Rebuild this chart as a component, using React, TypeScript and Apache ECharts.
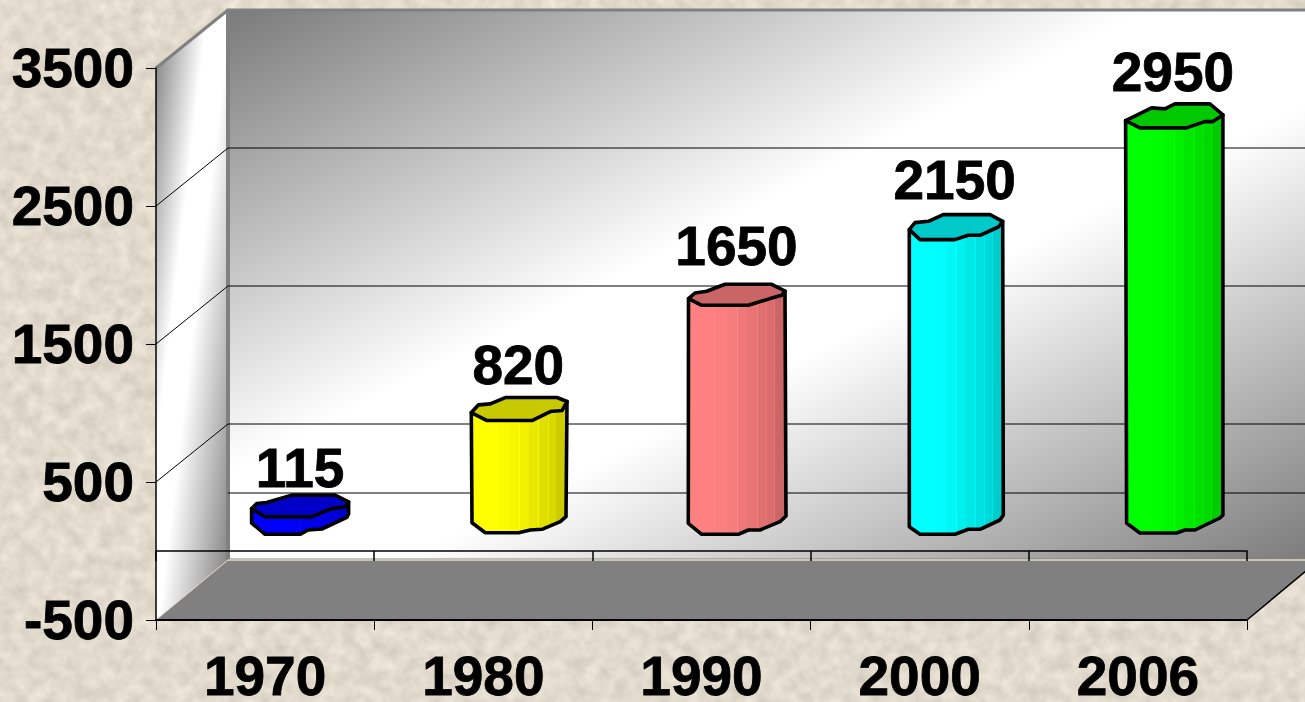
import React, { useEffect, useRef } from "react";
import * as echarts from "echarts";

const categories = ["1970", "1980", "1990", "2000", "2006"];
const values = [115, 820, 1650, 2150, 2950];
const barColors = ["#0000FF", "#FFFF00", "#FF8080", "#00FFFF", "#00FF00"];
const yTickValues = [-500, 500, 1500, 2500, 3500];
const wallLineValues = [500, 1500, 2500];
const labelLift = [38, 44, 48, 45, 43];

// Ragged outline of each column's cap and foot, in pixels around the column's axis.
const capOutlines = [
  [[-49.5, 2.5], [-44.5, -2.7], [-34.5, -3.7], [-9.5, -11], [34, -11], [47.5, -4.3], [44, 0.7], [29, 3], [10.5, 10.7], [-36, 10.7]],
  [[-48, 3.7], [-40.7, -4], [-29, -5], [-14, -11.3], [37.7, -11.3], [47.7, -7.3], [42.7, 1.7], [31, 2.7], [12.7, 11.7], [-32.3, 11.7]],
  [[-49, 4.3], [-42.5, -1.3], [-30.8, -3], [-12.5, -10], [34.2, -10], [47.5, -3.3], [44.2, 1], [32.5, 4.3], [10.8, 11], [-35.8, 11]],
  [[-46.4, 4.3], [-40.7, -2.7], [-27.4, -4], [-12.4, -10.7], [34.3, -10.7], [47, -4], [42.6, 1.7], [24.3, 10], [12.6, 10], [-0.7, 14.3], [-35.7, 14.3]],
  [[-48.3, 5.7], [-22.3, -7], [-9, -6], [1, -11], [36, -11], [49, 0], [39, 6.7], [31, 6.7], [12.7, 13], [-34, 13]],
];
const footOutlines = [
  [[-49.5, 1], [-36, 12.3], [-1, 12.3], [7, 8], [20.7, 7], [45.7, -4.7], [47.5, -8]],
  [[-47.3, 0.7], [-34, 10.7], [-0.7, 10.7], [11, 8], [22.7, 7.3], [41, -0.3], [46.7, -5.3]],
  [[-49.2, 1.3], [-35.8, 12.3], [0.8, 12.3], [10.8, 8], [22.5, 8], [42.5, -0.3], [48.5, -6]],
  [[-46.4, 4.7], [-35.7, 12.3], [-0.7, 12.3], [12.6, 7.3], [24.3, 7.3], [44.3, -2], [47.6, -7]],
  [[-47.3, 1], [-34, 11], [2.7, 11], [11, 8], [21, 8], [46, -4], [49, -7]],
];

const DX = 72;
const DY = -58;
const FLOOR_DY = -60;
const FONT = '"Liberation Sans", Arial, sans-serif';
const FONT_SIZE = 55;
const BG_SVG =
  "<svg xmlns='http://www.w3.org/2000/svg' width='1305' height='702'>" +
  "<filter id='n' x='0' y='0' width='100%' height='100%' color-interpolation-filters='sRGB'>" +
  "<feTurbulence type='fractalNoise' baseFrequency='0.07' numOctaves='3' seed='7'/>" +
  "<feColorMatrix type='matrix' values='0.16 0 0 0 0.805  0.16 0 0 0 0.775  0.16 0 0 0 0.72  0 0 0 0 1'/>" +
  "</filter><rect width='1305' height='702' filter='url(#n)'/></svg>";

function shade(hex: string, m: number) {
  const n = parseInt(hex.slice(1), 16);
  const c = [(n >> 16) & 255, (n >> 8) & 255, n & 255].map((v) => Math.min(255, Math.round(v * m + (m > 1 ? 255 * (m - 1) : 0))));
  return `rgb(${c[0]},${c[1]},${c[2]})`;
}

const facetEdges = [0, 0.14, 0.28, 0.4, 0.5, 0.51, 0.6, 0.7, 0.71, 0.8, 0.81, 0.88, 0.89, 1];
const facetShades = [1, 1, 0.99, 0.97, 1.03, 0.94, 0.91, 0.97, 0.88, 0.93, 0.85, 0.9, 0.8];

function bodyFill(hex: string) {
  const colorStops: any[] = [];
  facetShades.forEach((m, i) => {
    colorStops.push({ offset: facetEdges[i], color: shade(hex, m) });
    colorStops.push({ offset: facetEdges[i + 1], color: shade(hex, m) });
  });
  return { type: "linear", x: 0, y: 0, x2: 1, y2: 0, colorStops };
}

const backFill = {
  type: "linear",
  x: 0,
  y: 0,
  x2: 1,
  y2: 1,
  colorStops: [
    { offset: 0, color: "#7a7a7a" },
    { offset: 0.42, color: "#ffffff" },
    { offset: 0.58, color: "#ffffff" },
    { offset: 1, color: "#7a7a7a" },
  ],
};
const sideFill = {
  type: "linear",
  x: 0,
  y: 0,
  x2: 1,
  y2: 1,
  colorStops: [
    { offset: 0, color: "#7a7a7a" },
    { offset: 0.36, color: "#ffffff" },
    { offset: 0.52, color: "#ffffff" },
    { offset: 1, color: "#7a7a7a" },
  ],
};

function line(x1: number, y1: number, x2: number, y2: number, stroke: string, lineWidth: number) {
  return { type: "line", shape: { x1, y1, x2, y2 }, style: { stroke, lineWidth } };
}

function renderWalls(_: any, api: any) {
  const band = api.size([1, 0])[0];
  const left = api.coord([0, 0])[0] - band / 2;
  const right = left + band * categories.length;
  const yTop = api.coord([0, 3500])[1];
  const yBot = api.coord([0, -500])[1];
  const yZero = api.coord([0, 0])[1];
  const backRight = right + DX;
  const floorY = yBot + FLOOR_DY;
  const children: any[] = [
    {
      type: "polygon",
      shape: { points: [[left + DX, yTop + DY], [backRight, yTop + DY], [backRight, floorY], [left + DX, floorY]] },
      style: { fill: backFill, stroke: "#808080", lineWidth: 3 },
    },
    {
      type: "polygon",
      shape: { points: [[left, yTop], [left + DX, yTop + DY], [left + DX, floorY], [left, yBot]] },
      style: { fill: sideFill },
    },
    line(left, yTop, left + DX, yTop + DY, "#808080", 3),
    line(left + DX, yTop + DY, left + DX, floorY, "#808080", 4),
  ];
  wallLineValues.forEach((v) => {
    const y = api.coord([0, v])[1];
    children.push(line(left, y, left + DX, y + DY, "#000", 1));
    children.push(line(left + DX, y + DY, backRight, y + DY, "#000", 1));
  });
  children.push(line(left + DX, yZero + DY, backRight, yZero + DY, "#000", 1));
  children.push({
    type: "polygon",
    shape: { points: [[left, yBot], [left + DX, floorY], [backRight, floorY], [right, yBot]] },
    style: { fill: "#808080" },
  });
  children.push(line(left, yBot, left + DX, floorY, "#e3dacb", 1));
  children.push(line(left + DX, floorY, backRight, floorY, "#e3dacb", 1.5));
  children.push(line(right, yBot, backRight, floorY, "#000", 1.5));
  return { type: "group", children };
}

function renderColumn(params: any, api: any) {
  const i = params.dataIndex;
  const value = api.value(1);
  const [cx0, yv] = api.coord([api.value(0), value]);
  const y0 = api.coord([api.value(0), 0])[1];
  const cx = cx0 + DX / 2;
  const topY = yv + DY / 2;
  const baseY = y0 + DY / 2;
  const cap = capOutlines[i].map(([x, y]) => [cx + x, topY + y]);
  const foot = footOutlines[i].map(([x, y]) => [cx + x, baseY + y]);
  const rightTip = cap.reduce((a, b) => (b[0] > a[0] ? b : a));
  const leftTip = cap.reduce((a, b) => (b[0] < a[0] ? b : a));
  const hex = barColors[i];
  return {
    type: "group",
    children: [
      {
        type: "polygon",
        shape: { points: [leftTip, ...foot, rightTip] },
        style: { fill: bodyFill(hex), stroke: "#000", lineWidth: 3.6, lineJoin: "round" },
      },
      {
        type: "polygon",
        shape: { points: cap },
        style: { fill: shade(hex, 0.79), stroke: "#000", lineWidth: 3.6, lineJoin: "round" },
      },
      {
        type: "text",
        style: {
          text: String(value),
          x: cx - 1,
          y: topY - labelLift[i],
          textAlign: "center",
          verticalAlign: "middle",
          fill: "#000",
          stroke: "#000",
          lineWidth: 0.8,
          font: `bold ${FONT_SIZE}px ${FONT}`,
        },
      },
    ],
  };
}

export default function App() {
  const ref = useRef<HTMLDivElement>(null);
  useEffect(() => {
    const chart = echarts.init(ref.current!, null, { renderer: "svg" });
    const labelStyle = {
      color: "#000",
      fontSize: FONT_SIZE,
      fontWeight: "bold",
      fontFamily: FONT,
      textBorderColor: "#000",
      textBorderWidth: 0.8,
    };
    chart.setOption({
      animation: false,
      backgroundColor: "transparent",
      grid: { left: 156, right: 58, top: 68, bottom: 82, containLabel: false, outerBoundsMode: "none" },
      xAxis: [
        {
          type: "category",
          data: categories,
          position: "bottom",
          axisLine: { show: true, onZero: false, lineStyle: { color: "#000", width: 2 } },
          axisTick: { show: true, length: 10, lineStyle: { color: "#000", width: 1 } },
          axisLabel: { ...labelStyle, lineHeight: 44, margin: 34 },
        },
        {
          type: "category",
          data: categories,
          position: "top",
          axisLine: { show: true, onZero: true, lineStyle: { color: "#000", width: 1.5 } },
          axisTick: { show: true, inside: true, length: 10, lineStyle: { color: "#000", width: 1.5 } },
          axisLabel: { show: false },
        },
      ],
      yAxis: {
        type: "value",
        min: -500,
        max: 3500,
        splitLine: { show: false },
        axisLine: { show: true, onZero: false, lineStyle: { color: "#000", width: 1.5 } },
        axisTick: { show: true, length: 10, customValues: yTickValues, lineStyle: { color: "#000", width: 1 } },
        axisLabel: { ...labelStyle, margin: 22, customValues: yTickValues, formatter: (v: number) => String(v) },
      },
      series: [
        {
          type: "custom",
          z: -5,
          silent: true,
          renderItem: renderWalls,
          data: [[0, 0]],
          encode: { x: 0, y: 1 },
        },
        {
          type: "custom",
          z: 3,
          silent: true,
          renderItem: renderColumn,
          data: values.map((v, i) => [i, v]),
          encode: { x: 0, y: 1 },
        },
      ],
    });
    return () => chart.dispose();
  }, []);
  return (
    <div
      style={{
        position: "absolute",
        left: 0,
        top: 0,
        width: 1305,
        height: 702,
        overflow: "hidden",
        backgroundColor: "#e4dccd",
        backgroundImage: `url("data:image/svg+xml,${encodeURIComponent(BG_SVG)}")`,
      }}
    >
      <div ref={ref} style={{ width: 1305, height: 702 }} />
    </div>
  );
}
